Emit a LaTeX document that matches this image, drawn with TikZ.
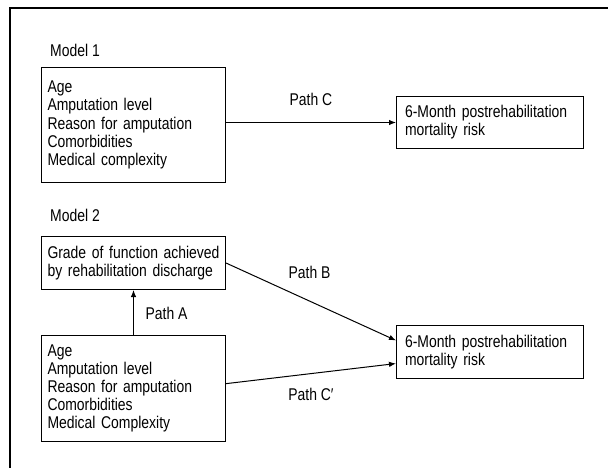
\documentclass[tikz,border=0pt]{standalone}
\usepackage{fontspec}
\setmainfont{Liberation Sans}[FakeStretch=0.82]
\usetikzlibrary{arrows.meta,
                calc, %for anchors on the borders
                positioning}

\begin{document}
\begin{tikzpicture}[%
    x=1pt, y=-1pt,
    font=\fontsize{17}{18.2}\selectfont,
    Box/.style={draw, line width=1pt, align=left, anchor=north west, inner ysep=0pt},
    Factors/.style={Box, text width=172pt, inner xsep=6pt},
    Risk/.style={Box, text width=170pt, inner xsep=8.5pt},
    Label/.style={inner sep=0pt},
    Path/.style={line width=1pt, -{Latex[length=7pt, width=5.5pt]}}
    ]

    \useasboundingbox (0,0) rectangle (608,468);
    %frame
    \draw[line width=1.5pt] (10,468) -- (10,8) -- (608,8);

    %Model 1
    \node[Label, anchor=west] at (50,50)      (M1){Model 1};
    \node[Factors, minimum height=115pt] at (41,67)   (F1){Age\\Amputation level\\\mbox{Reason for amputation}\\Comorbidities\\\mbox{Medical complexity}};
    \node[Risk, minimum height=52pt] at (396,96)      (R1){\mbox{6-Month postrehabilitation}\\mortality risk};

    \draw[Path] (F1.east |- R1.west) -- (R1.west) node[Label, midway, above=16pt] (PC){Path C};

    %Model 2
    \node[Label, anchor=west] at (50,215)     (M2){Model 2};
    \node[Factors, minimum height=53pt] at (41,236)   (G2){\mbox{Grade of function achieved}\\\mbox{by rehabilitation discharge}};
    \node[Factors, minimum height=106pt] at (41,335)  (F2){Age\\Amputation level\\\mbox{Reason for amputation}\\Comorbidities\\\mbox{Medical Complexity}};
    \node[Risk, minimum height=53pt] at (396,325)     (R2){\mbox{6-Month postrehabilitation}\\mortality risk};

    \draw[Path] (F2) -- (G2);
    \draw[Path] (G2.east) -- (R2.173);
    \draw[Path] (F2.3) -- (R2.187);

    %path labels
    \node[Label] at (166.5,313.5)  (PA){Path A};
    \node[Label] at (309.5,272.5)  (PB){Path B};
    \node[Label] at (311,394)      (PCp){Path C′};
\end{tikzpicture}
\end{document}
